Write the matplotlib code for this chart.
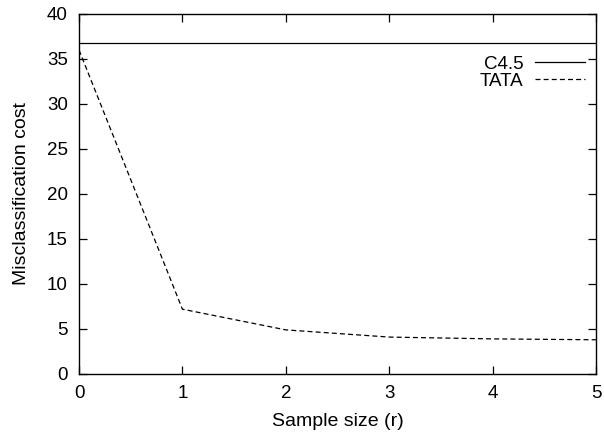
import matplotlib
matplotlib.use('Agg')
import matplotlib.pyplot as plt

plt.rcParams['font.family'] = ['Liberation Sans', 'DejaVu Sans']

# data
sample_size = [0, 1, 2, 3, 4, 5]
tata_cost = [36.0, 7.2, 4.9, 4.1, 3.9, 3.8]
c45_cost = 36.8

fig = plt.figure(figsize=(6.04, 4.33), dpi=100)
ax = fig.add_axes([0.1308, 0.1363, 0.856, 0.8314])

ax.axhline(c45_cost, color='black', lw=0.9, label='C4.5')
ax.plot(sample_size, tata_cost, color='black', lw=0.9, ls=(0, (4, 2.5)), label='TATA')

ax.set_xlim(0, 5)
ax.set_ylim(0, 40)
ax.set_xticks(range(0, 6))
ax.set_yticks(range(0, 41, 5))
ax.tick_params(direction='in', length=6, width=0.9, top=True, right=True,
               labelsize=13.5)
ax.tick_params(axis='x', pad=8)
ax.tick_params(axis='y', pad=8)
for sp in ax.spines.values():
    sp.set_linewidth(1.0)

ax.set_xlabel('Sample size (r)', fontsize=14, labelpad=8)
ax.set_ylabel('Misclassification cost', fontsize=14, labelpad=12)

ax.legend(loc='upper right', frameon=False, markerfirst=False, fontsize=13.5,
          handlelength=2.7, handletextpad=0.6, labelspacing=-0.02,
          borderpad=0, borderaxespad=0, bbox_to_anchor=(0.979, 0.884))

fig.savefig('out.png', dpi=100)
